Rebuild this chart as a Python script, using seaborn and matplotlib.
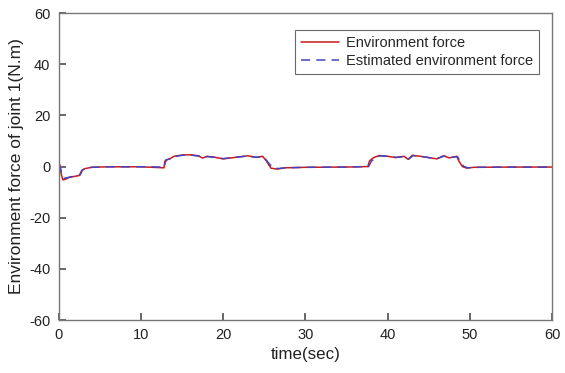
import numpy as np
import pandas as pd
import matplotlib.pyplot as plt
import seaborn as sns

sns.set_theme(style="white")
plt.rcParams['font.family'] = ['Liberation Sans', 'DejaVu Sans']
plt.rcParams['axes.unicode_minus'] = False

# breakpoints (time in sec, force in N.m)
time_env = [0, 0.15, 0.3, 0.5, 0.8, 1.2, 2.0, 2.5, 2.8, 3.2, 4.0, 6, 10, 12.8, 12.9, 13.0, 13.5, 14.0,
            15.0, 16.0, 17.0, 17.5, 18.0, 19.0, 20.0, 21.0, 22.0, 23.0, 24.0, 24.8, 25.3, 25.8, 26.5,
            27.5, 30, 35, 37.6, 37.8, 38.3, 39.0, 40.0, 41.0, 42.0, 42.5, 43.0, 44.0, 45.0, 46.0,
            46.8, 47.5, 48.4, 48.7, 49.1, 49.6, 50.5, 55, 60]
force_env = [1.5, 0.5, -3.0, -5.2, -5.0, -4.3, -3.8, -3.5, -1.5, -0.8, -0.3, -0.1, -0.1, -0.5, 2.0, 2.5,
             3.0, 4.0, 4.5, 4.6, 4.2, 3.3, 4.0, 3.6, 3.0, 3.4, 3.8, 4.2, 3.6, 4.0, 2.0, -0.6, -1.0,
             -0.5, -0.3, -0.2, 0.0, 2.2, 3.5, 4.3, 4.0, 3.5, 4.0, 2.8, 4.4, 4.0, 3.5, 3.0, 4.2, 3.4,
             4.0, 2.0, 0.0, -0.6, -0.3, -0.2, -0.2]
time_est = [0, 0.2, 0.4, 0.6, 1.0, 1.5, 2.0, 2.6, 2.9, 3.3, 4.0, 6, 10, 12.85, 12.95, 13.1, 13.6, 14.1,
            15.0, 16.0, 17.0, 17.6, 18.1, 19.0, 20.0, 21.0, 22.0, 23.0, 24.0, 24.9, 25.5, 26.0, 26.7,
            27.5, 30, 35, 37.7, 38.0, 38.5, 39.1, 40.0, 41.0, 42.0, 42.6, 43.1, 44.0, 45.0, 46.0,
            46.9, 47.6, 48.5, 48.9, 49.3, 49.8, 50.5, 55, 60]
force_est = [1.0, -0.5, -3.5, -4.6, -4.4, -4.0, -3.6, -3.3, -1.3, -0.7, -0.3, -0.1, -0.1, -0.2, 1.6, 2.6,
             3.1, 3.9, 4.4, 4.5, 4.1, 3.4, 3.9, 3.6, 3.1, 3.4, 3.8, 4.1, 3.6, 3.9, 1.5, -0.4, -0.8,
             -0.5, -0.3, -0.2, 0.0, 2.0, 3.4, 4.2, 4.0, 3.6, 3.9, 3.0, 4.3, 4.0, 3.5, 3.1, 4.1, 3.5,
             3.9, 1.6, 0.0, -0.5, -0.3, -0.2, -0.2]

df_env = pd.DataFrame({'time': time_env, 'force': force_env})
df_est = pd.DataFrame({'time': time_est, 'force': force_est})

fig, ax = plt.subplots(figsize=(5.65, 3.73), dpi=100)
fig.subplots_adjust(left=0.104, right=0.977, top=0.965, bottom=0.142)

sns.lineplot(data=df_env, x='time', y='force', ax=ax, color='#cc1a1a', lw=1.1,
             label='Environment force', estimator=None)
sns.lineplot(data=df_est, x='time', y='force', ax=ax, color='#4444c0', lw=1.1,
             linestyle=(0, (6, 4)), label='Estimated environment force', estimator=None)

ax.set_xlim(0, 60)
ax.set_ylim(-60, 60)
ax.set_xticks(range(0, 61, 10))
ax.set_yticks(range(-60, 61, 20))
ax.tick_params(axis='both', direction='in', length=5, labelsize=10.5, color='#555555',
               labelcolor='#222222', pad=6, bottom=True, left=True, top=False, right=False)
for s in ax.spines.values():
    s.set_color('#777777')
    s.set_linewidth(1.0)

ax.set_xlabel('time(sec)', fontsize=12.2, color='#222222', labelpad=3)
ax.set_ylabel('Environment force of joint 1(N.m)', fontsize=12.5, color='#222222', labelpad=4)

leg = ax.legend(loc='upper right', bbox_to_anchor=(0.974, 0.945), fontsize=10.5, frameon=True,
                fancybox=False, edgecolor='#444444', handlelength=2.6, borderpad=0.4,
                labelspacing=0.3, handletextpad=0.5, borderaxespad=0)
leg.get_frame().set_linewidth(0.8)

plt.savefig('out.png', dpi=100)
